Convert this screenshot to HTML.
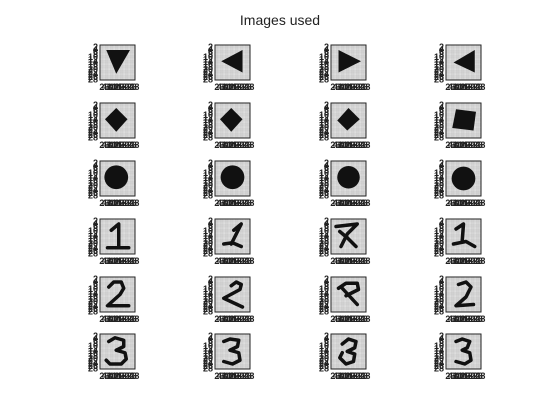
<!DOCTYPE html>
<html><head><meta charset="utf-8"><style>
html,body{margin:0;padding:0;background:#fff;width:560px;height:420px;overflow:hidden}
svg{display:block}
text{font-family:"Liberation Sans",sans-serif}
</style></head><body>
<svg id="fig" width="560" height="420">
<defs>
<pattern id="grid" width="1.25" height="1.25" patternUnits="userSpaceOnUse">
<rect width="1.25" height="1.25" fill="#e6e6e6"/>
<path d="M0 0H1.25M0 0V1.25" stroke="#b0b0b0" stroke-width="0.5"/>
</pattern>
</defs>
<text x="280" y="25" text-anchor="middle" font-size="14" fill="#222">Images used</text>
</svg>
<script>
const colX=[100,215,331,446];
const rowY=[45,103,161,219,277,334];
const ticks=[2,4,6,8,10,12,14,16,18,20,22,24,26,28];
const S=35;
const shapes=[
 [{p:"5,4 24,4 13,23"},{p:"22,4 22,22 5,13"},{p:"6,4 24,13 6,22"},{p:"23,4 23,22 6,14"}],
 [{p:"13,4 22,13 13,23 4,13"},{p:"13,4 22,13 13,23 4,13"},{p:"14,4 23,13 13,22 5,14"},{p:"8,5 24,7 22,22 5,20"}],
 [{c:[13,13,9.5]},{c:[14,13,9.5]},{c:[14,13,9]},{c:[14,14,9.5]}],
 [{l:"9,9 15,4 15,22 M6,23 23,23"},{l:"15,9 21,4 13,20 M7,20 14,19 21,22"},{l:"7,10 13,15 M4,6 21,4 13,12 8,22 M13,15 20,22"},{l:"8,8 14,4 13,17 M6,20 16,18 23,22"}],
 [{l:"7,8 11,4 17,4 19,9 16,14 6,23 23,23"},{l:"13,7 17,4 21,6 20,10 7,17 22,24"},{l:"6,9 12,5 21,5 22,10 12,15 M9,9 21,22"},{l:"10,6 16,4 20,8 16,16 8,23 22,22"}],
 [{l:"7,6 12,3 19,5 19,10 13,13 20,15 21,20 17,24 8,24 5,21"},{l:"7,6 12,4 19,5 18,10 12,13 19,15 20,21 14,24 7,22"},{l:"9,8 14,4 20,6 19,11 13,14 19,16 18,22 12,24 7,19 9,15"},{l:"8,6 13,4 19,6 17,11 13,13 19,15 20,21 15,24 8,22"}]
];
const svg=document.getElementById('fig');
const NS="http://www.w3.org/2000/svg";
function mk(t,a){const e=document.createElementNS(NS,t);for(const k in a)e.setAttribute(k,a[k]);return e;}
rowY.forEach((y,r)=>colX.forEach((x,c)=>{
 const g=mk('g',{transform:`translate(${x},${y})`});
 
 
 g.appendChild(mk('rect',{x:0,y:0,width:S,height:S,fill:'url(#grid)'}));
 const inner=mk('g',{transform:`scale(${S/28})`});
 const s=shapes[r][c];
 if(s.p)inner.appendChild(mk('polygon',{points:s.p,fill:'#111'}));
 if(s.c)inner.appendChild(mk('circle',{cx:s.c[0],cy:s.c[1],r:s.c[2],fill:'#111'}));
 if(s.l){s.l.split('M').forEach(seg=>{inner.appendChild(mk('polyline',{points:seg.trim(),fill:'none',stroke:'#111','stroke-width':2.8,'stroke-linecap':'round','stroke-linejoin':'round'}));});}
 g.appendChild(inner);
 g.appendChild(mk('rect',{x:0,y:0,width:S,height:S,fill:'none',stroke:'#222','stroke-width':1}));
 const xg=mk('g',{'font-size':9,'font-weight':'bold',fill:'#222','text-anchor':'middle'});
 
 
 const yg=mk('g',{'font-size':9,'font-weight':'bold',fill:'#222','text-anchor':'end'});
 
 
 ticks.forEach(v=>{
  const p=(v-0.5)/28*S;
  const tx=mk('text',{x:p,y:S+10});tx.textContent=v;xg.appendChild(tx);
  const ty=mk('text',{x:-2,y:p+3});ty.textContent=v;yg.appendChild(ty);
 });
 g.appendChild(xg);g.appendChild(yg);
 svg.appendChild(g);
}));
</script>
</body></html>
